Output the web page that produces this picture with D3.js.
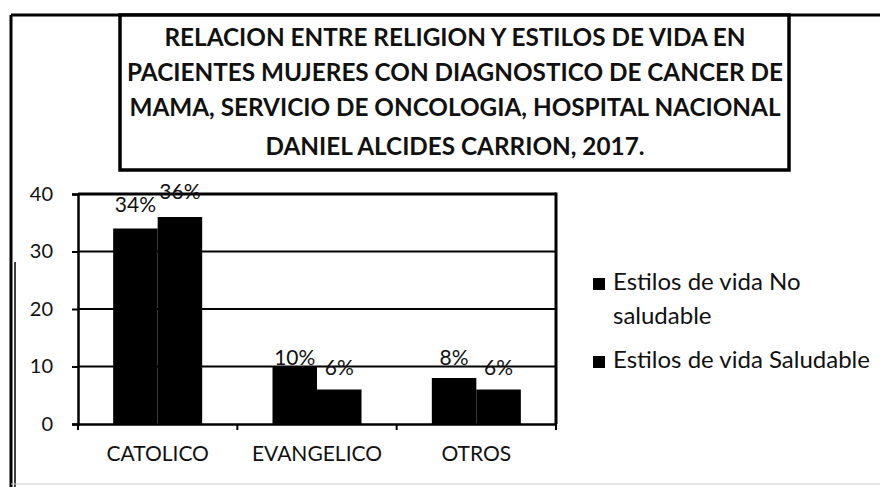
<!DOCTYPE html>
<html>
<head>
<meta charset="utf-8">
<script src="https://cdn.jsdelivr.net/npm/d3@7/dist/d3.min.js"></script>
<style>
  html, body { margin: 0; padding: 0; background: #fff; }
  svg { display: block; }
  text { font-family: Lato, "Open Sans", sans-serif; fill: #111; }
</style>
</head>
<body>
<svg id="chart" width="880" height="487"></svg>
<script>
// ---- data ----
const categories = ["CATOLICO", "EVANGELICO", "OTROS"];
const seriesNames = ["Estilos de vida No saludable", "Estilos de vida Saludable"];
const noSaludable = [34, 10, 8];
const saludable = [36, 6, 6];
const labelsNoSaludable = ["34%", "10%", "8%"];
const labelsSaludable = ["36%", "6%", "6%"];
const yTicks = [0, 10, 20, 30, 40];
const titleLines = [
  "RELACION ENTRE RELIGION Y ESTILOS DE VIDA EN",
  "PACIENTES MUJERES CON DIAGNOSTICO DE CANCER DE",
  "MAMA, SERVICIO DE ONCOLOGIA, HOSPITAL NACIONAL",
  "DANIEL ALCIDES CARRION, 2017."
];
// label vertical nudges (px above bar top) as placed in the original
const labelLift = [[17, 2, 13], [18, 15, 15]];

const svg = d3.select("#chart");

// outer frame (top + left edges)
svg.append("line").attr("x1", 11).attr("x2", 880).attr("y1", 15).attr("y2", 15)
  .attr("stroke", "#000").attr("stroke-width", 3);
svg.append("line").attr("x1", 11).attr("x2", 11).attr("y1", 15).attr("y2", 487)
  .attr("stroke", "#000").attr("stroke-width", 3);
svg.append("line").attr("x1", 15).attr("x2", 15).attr("y1", 262).attr("y2", 487)
  .attr("stroke", "#000").attr("stroke-width", 1.5);
svg.append("line").attr("x1", 11).attr("x2", 880).attr("y1", 484).attr("y2", 484)
  .attr("stroke", "#ccc").attr("stroke-width", 1);

// title box
svg.append("rect").attr("x", 120).attr("y", 15).attr("width", 669).attr("height", 155)
  .attr("fill", "#fff").attr("stroke", "#000").attr("stroke-width", 3.5);
const titleBase = [46, 81, 116, 155];
svg.append("g").selectAll("text").data(titleLines).join("text")
  .attr("x", 455).attr("y", (d, i) => titleBase[i])
  .attr("text-anchor", "middle")
  .attr("font-size", 24.3).attr("font-weight", "bold")
  .text(d => d);

// plot area
const plot = { left: 78, right: 556, top: 194, bottom: 424 };
const y = d3.scaleLinear().domain([0, 40]).range([plot.bottom, plot.top]);
const x0 = d3.scaleBand().domain(categories).range([plot.left, plot.right]).padding(0);
const x1 = d3.scaleBand().domain([0, 1]).range([0, x0.bandwidth()]).paddingInner(0).paddingOuter(0.79);

// gridlines
svg.append("g").selectAll("line").data(yTicks.filter(t => t > 0 && t < 40)).join("line")
  .attr("x1", plot.left).attr("x2", plot.right)
  .attr("y1", d => y(d)).attr("y2", d => y(d))
  .attr("stroke", "#000").attr("stroke-width", 2);

// plot border top & right
svg.append("line").attr("x1", plot.left).attr("x2", plot.right).attr("y1", y(40)).attr("y2", y(40))
  .attr("stroke", "#000").attr("stroke-width", 3);
svg.append("line").attr("x1", plot.right).attr("x2", plot.right).attr("y1", y(40) - 1.5).attr("y2", plot.bottom)
  .attr("stroke", "#000").attr("stroke-width", 3);

// bars
const series = [noSaludable, saludable];
const labels = [labelsNoSaludable, labelsSaludable];
series.forEach((vals, s) => {
  svg.append("g").selectAll("rect").data(vals).join("rect")
    .attr("x", (d, i) => x0(categories[i]) + x1(s))
    .attr("width", x1.bandwidth())
    .attr("y", d => y(d))
    .attr("height", d => y(0) - y(d))
    .attr("fill", "#000");
});

// y axis
const yAxis = d3.axisLeft(y).tickValues(yTicks).tickSize(6).tickPadding(19);
const gy = svg.append("g").attr("transform", `translate(${plot.left},0)`).call(yAxis);
gy.select(".domain").attr("stroke", "#000").attr("stroke-width", 2.5);
gy.selectAll(".tick line").attr("stroke", "#000").attr("stroke-width", 2);
gy.selectAll(".tick text").attr("font-size", 20).attr("fill", "#111")
  .attr("font-family", "Lato, 'Open Sans', sans-serif");

// x axis
const xAxis = d3.axisBottom(x0).tickSize(0).tickPadding(22);
const gx = svg.append("g").attr("transform", `translate(0,${plot.bottom})`).call(xAxis);
gx.select(".domain").attr("stroke", "#000").attr("stroke-width", 2.5);
gx.selectAll(".tick text").attr("font-size", 21).attr("fill", "#111")
  .attr("font-family", "Lato, 'Open Sans', sans-serif");
// category boundary ticks
const bounds = categories.map(c => x0(c)).concat([plot.right]);
gx.append("g").selectAll("line").data(bounds).join("line")
  .attr("x1", d => d).attr("x2", d => d).attr("y1", 0).attr("y2", 6)
  .attr("stroke", "#000").attr("stroke-width", 2);

// data labels
series.forEach((vals, s) => {
  svg.append("g").selectAll("text").data(vals).join("text")
    .attr("x", (d, i) => x0(categories[i]) + x1(s) + x1.bandwidth() / 2)
    .attr("y", (d, i) => y(d) - labelLift[s][i])
    .attr("text-anchor", "middle")
    .attr("font-size", 21)
    .text((d, i) => labels[s][i]);
});

// legend
const legendRows = [
  { key: 0, lines: ["Estilos de vida No", "saludable"], y: 290 },
  { key: 1, lines: ["Estilos de vida Saludable"], y: 368 }
];
const lg = svg.append("g");
legendRows.forEach(r => {
  lg.append("rect").attr("x", 593).attr("y", r.y - 12).attr("width", 12).attr("height", 12).attr("fill", "#000");
  const t = lg.append("text").attr("x", 613).attr("y", r.y).attr("font-size", 24);
  r.lines.forEach((ln, i) => {
    t.append("tspan").attr("x", 613).attr("dy", i === 0 ? 0 : 34).text(ln);
  });
});
</script>
</body>
</html>
